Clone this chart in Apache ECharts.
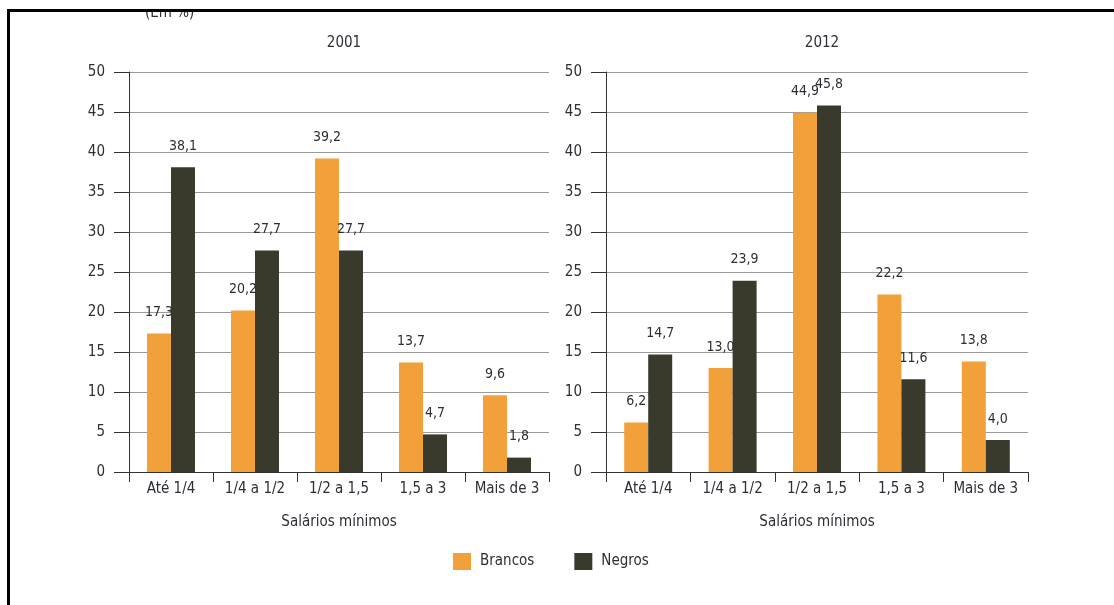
<!DOCTYPE html>
<html>
<head>
<meta charset="utf-8">
<script src="https://cdn.jsdelivr.net/npm/echarts@6/dist/echarts.min.js"></script>
<style>
  html, body { margin: 0; padding: 0; background: #fff; }
  #chart { width: 1114px; height: 605px; }
</style>
</head>
<body>
<div id="chart"></div>
<script>
// Faixas de rendimento (salários mínimos)
const categories = ['Até 1/4', '1/4 a 1/2', '1/2 a 1,5', '1,5 a 3', 'Mais de 3'];
const yTicks = [0, 5, 10, 15, 20, 25, 30, 35, 40, 45, 50];

// Distribuição percentual por cor/raça
const brancos2001 = [17.3, 20.2, 39.2, 13.7, 9.6];
const negros2001  = [38.1, 27.7, 27.7, 4.7, 1.8];
const brancos2012 = [6.2, 13.0, 44.9, 22.2, 13.8];
const negros2012  = [14.7, 23.9, 45.8, 11.6, 4.0];

const FONT = "'Liberation Sans Narrow', 'DejaVu Sans Condensed', 'Roboto', sans-serif";
const TEXT = '#2e2e36';
const ORANGE = '#F2A03A';
const DARK = '#393A2C';

const fmt = v => Number(v).toFixed(1).replace('.', ',');

function xAxis(gridIndex) {
  return {
    type: 'category', gridIndex, data: categories,
    name: 'Salários mínimos', nameLocation: 'middle', nameGap: 43,
    nameTextStyle: { color: TEXT, fontFamily: FONT, fontSize: 15 },
    axisLine: { lineStyle: { color: '#333', width: 1 } },
    axisTick: { show: true, length: 10, alignWithLabel: false, lineStyle: { color: '#333' } },
    axisLabel: { color: TEXT, fontFamily: FONT, fontSize: 15, margin: 10, interval: 0 },
    splitLine: { show: false }
  };
}
function yAxis(gridIndex) {
  return {
    type: 'value', gridIndex, min: yTicks[0], max: yTicks[yTicks.length - 1], interval: 5,
    axisLine: { show: true, lineStyle: { color: '#333', width: 1 } },
    axisTick: { show: true, length: 15, lineStyle: { color: '#333' } },
    axisLabel: { color: TEXT, fontFamily: FONT, fontSize: 15, margin: 24 },
    splitLine: { show: true, lineStyle: { color: '#9a9a9a', width: 1 } }
  };
}
function bars(name, data, idx, color) {
  return {
    name, type: 'bar', data, xAxisIndex: idx, yAxisIndex: idx,
    barWidth: 24, barGap: '0%',
    itemStyle: { color },
    label: {
      show: true, position: 'top', distance: 14,
      formatter: p => fmt(p.value),
      color: TEXT, fontFamily: FONT, fontSize: 14
    }
  };
}

const chart = echarts.init(document.getElementById('chart'), null, { renderer: 'canvas' });
chart.setOption({
  backgroundColor: '#fff',
  animation: false,
  textStyle: { fontFamily: FONT },
  title: [
    { text: '2001', left: 339, top: 31, textAlign: 'center',
      textStyle: { color: TEXT, fontFamily: FONT, fontSize: 15, fontWeight: 'normal' } },
    { text: '2012', left: 817, top: 31, textAlign: 'center',
      textStyle: { color: TEXT, fontFamily: FONT, fontSize: 15, fontWeight: 'normal' } }
  ],
  legend: {
    left: 448, top: 548, itemWidth: 18, itemHeight: 17, itemGap: 40,
    icon: 'rect',
    textStyle: { color: TEXT, fontFamily: FONT, fontSize: 15, padding: [0, 0, 0, 4] },
    data: ['Brancos', 'Negros']
  },
  grid: [
    { left: 129, top: 72, width: 420, height: 400 },
    { left: 606, top: 72, width: 422, height: 400 }
  ],
  xAxis: [xAxis(0), xAxis(1)],
  yAxis: [yAxis(0), yAxis(1)],
  series: [
    bars('Brancos', brancos2001, 0, ORANGE),
    bars('Negros', negros2001, 0, DARK),
    bars('Brancos', brancos2012, 1, ORANGE),
    bars('Negros', negros2012, 1, DARK)
  ],
  graphic: [
    { type: 'text', left: 145, top: 6, z: 1,
      style: { text: '(Em %)', fill: TEXT, font: "15px 'Liberation Sans Narrow', 'DejaVu Sans Condensed', sans-serif" } },
    { type: 'rect', shape: { x: 0, y: 0, width: 1114, height: 10 }, style: { fill: '#fff' }, z: 10 },
    { type: 'line', shape: { x1: 7, y1: 10.5, x2: 1114, y2: 10.5 }, style: { stroke: '#000', lineWidth: 3 }, z: 11 },
    { type: 'line', shape: { x1: 8.5, y1: 9, x2: 8.5, y2: 605 }, style: { stroke: '#000', lineWidth: 3 }, z: 11 }
  ]
});
</script>
</body>
</html>
